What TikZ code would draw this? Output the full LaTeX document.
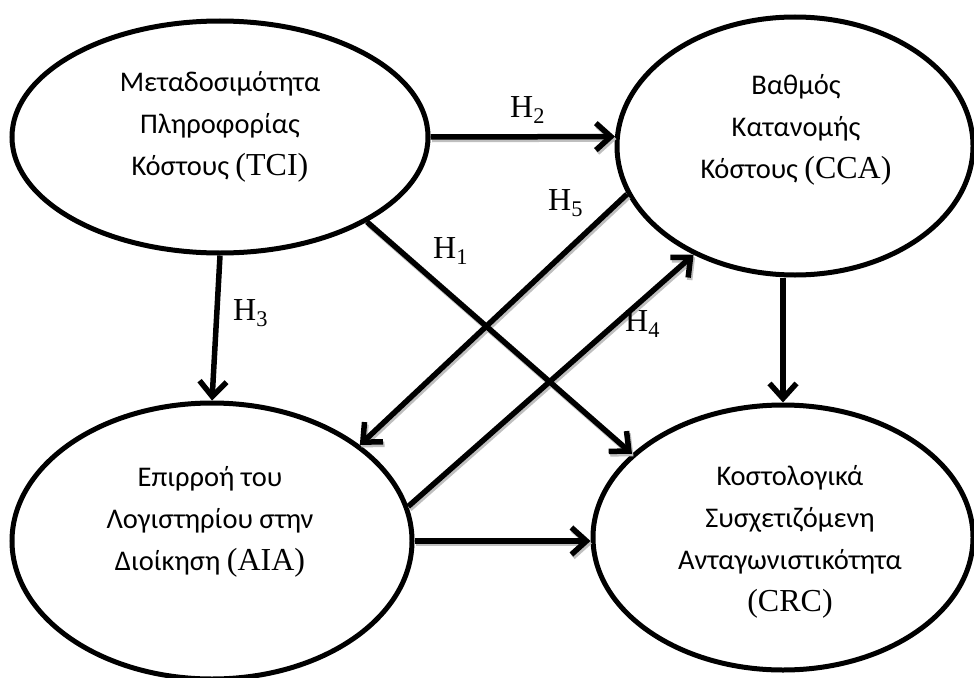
\documentclass[tikz,border=0pt]{standalone}
\usepackage{fontspec}
\setmainfont{Carlito}
\newfontfamily\tnr{Liberation Serif}
\usetikzlibrary{shapes.geometric,arrows.meta,calc}
\begin{document}
\begin{tikzpicture}[x=1pt,y=-1pt,
  construct/.style={ellipse, draw, line width=5pt, inner sep=0pt},
  ctext/.style={align=center, font=\fontsize{28.5}{42}\selectfont, inner sep=0pt},
  hyp/.style={font=\tnr\fontsize{32}{32}\selectfont, anchor=base west, inner sep=0pt},
  link/.style={line width=5.5pt, -{Straight Barb[length=15pt,width=27pt]}},
  shadowlayer/.style={transform canvas={shift={(1.5pt,-2.5pt)}}, draw=gray!50}
]
\useasboundingbox (0,0) rectangle (974,677);

% constructs
\node[construct, minimum width=416pt, minimum height=232pt] (tci) at (220,137) {};
\node[construct, minimum width=356pt, minimum height=258pt] (cca) at (795,146) {};
\node[construct, minimum width=400pt, minimum height=276pt] (aia) at (212,541) {};
\node[construct, minimum width=380pt, minimum height=265pt] (crc) at (783,537.5) {};

% construct names
\node[ctext] (tciT) at (220,127) {Μεταδοσιμότητα\\Πληροφορίας\\Κόστους {\tnr\fontsize{32}{42}\selectfont(TCI)}};
\node[ctext] (ccaT) at (796,130) {Βαθμός\\Κατανομής\\Κόστους {\tnr\fontsize{32}{42}\selectfont(CCA)}};
\node[ctext] (aiaT) at (210,522) {Επιρροή του\\Λογιστηρίου στην\\Διοίκηση {\tnr\fontsize{32}{42}\selectfont(AIA)}};
\node[ctext] (crcT) at (790,542) {Κοστολογικά\\Συσχετιζόμενη\\Ανταγωνιστικότητα\\{\tnr\fontsize{32}{42}\selectfont(CRC)}};

% grey drop shadow under the diagonal and horizontal hypotheses
\begin{scope}[shadowlayer]
  \draw[link, gray!50] (tci.east) -- (cca.177);
  \draw[link, gray!50] (tci.330) -- (crc.151);
  \draw[link, gray!50] (cca.196) -- (aia.33);
  \draw[link, gray!50] (aia.10) -- (cca.227);
  \draw[link, gray!50] (aia.east) -- (aia.east -| crc.west);
\end{scope}

% hypotheses
\draw[link] (tci.east) -- (cca.177);
\draw[link] (tci.330) -- (crc.151);
\draw[link] (tci.south) -- (aia.north);
\draw[link] (cca.196) -- (aia.33);
\draw[link] (aia.10) -- (cca.227);
\draw[link] (crc.north |- cca.south) -- (crc.north);
\draw[link] (aia.east) -- (aia.east -| crc.west);

% hypothesis labels
\node[hyp] (h2) at (510,117) {H\textsubscript{2}};
\node[hyp] (h1) at (433,258) {H\textsubscript{1}};
\node[hyp] (h3) at (233,320) {H\textsubscript{3}};
\node[hyp] (h4) at (625,331) {H\textsubscript{4}};
\node[hyp] (h5) at (548,210) {H\textsubscript{5}};
\end{tikzpicture}
\end{document}
